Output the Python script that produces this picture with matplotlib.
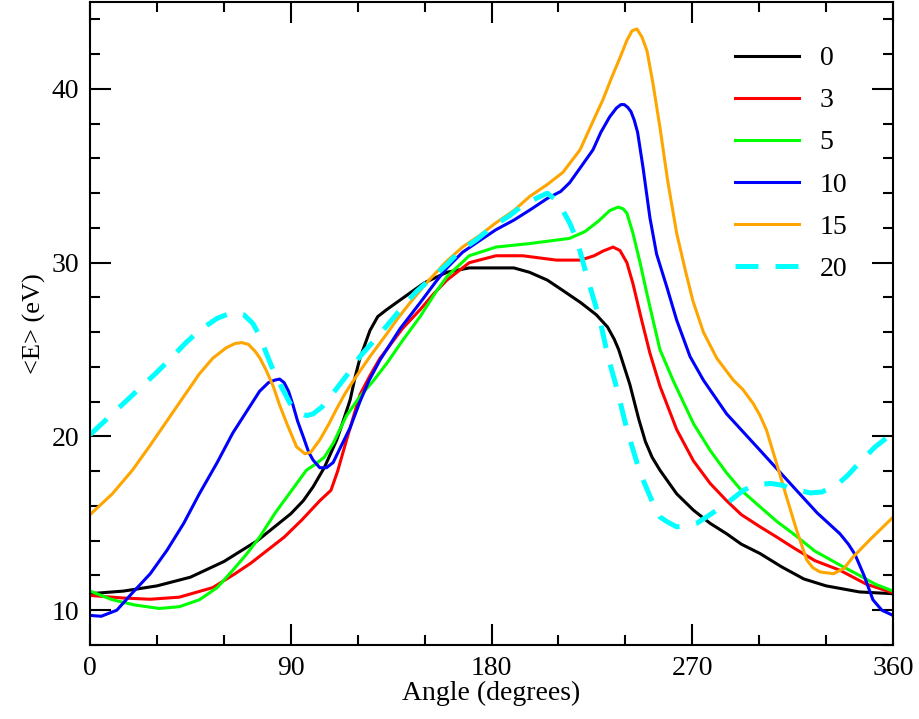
import matplotlib
matplotlib.use('Agg')
import matplotlib.pyplot as plt
from matplotlib.ticker import MultipleLocator

plt.rcParams['font.family'] = ['Liberation Serif', 'DejaVu Serif']

# (angle, <E>) pairs
x0 = [0, 15, 30, 45, 60, 75, 90, 95.6, 100, 105, 110.6, 113, 116.6, 119, 121, 125.5, 129, 133, 139, 145, 150,
      160, 170, 180, 190, 197, 205, 212, 220, 227, 232, 235, 237, 239, 242, 246, 249, 252, 255.5, 263, 270.5,
      278, 285.4, 292, 300.4, 310, 320, 330, 345, 360]
y0 = [10.95, 11.1, 11.4, 11.9, 12.8, 14.0, 15.55, 16.3, 17.1, 18.2, 19.8, 20.7, 22.1, 23.5, 24.5, 26.1, 26.9,
      27.3, 27.85, 28.4, 28.85, 29.45, 29.7, 29.7, 29.7, 29.45, 29.0, 28.4, 27.7, 27.0, 26.3, 25.6, 25.0,
      24.2, 23.0, 21.0, 19.7, 18.8, 18.06, 16.7, 15.76, 15.0, 14.4, 13.8, 13.26, 12.5, 11.8, 11.4, 11.05,
      10.95]

x3 = [0, 15, 27, 40, 55, 65, 72, 80, 87, 95, 103, 108, 111, 115, 118, 121, 125.5, 130, 133, 140, 148, 154, 160,
      170, 182, 194, 209, 220, 226, 230, 234.5, 237.6, 240.7, 243.4, 247.3, 251, 255.5, 263, 270.5, 278,
      285.4, 292, 300.4, 308, 315.3, 325, 336.2, 348, 360]
y3 = [10.85, 10.7, 10.63, 10.75, 11.3, 12.1, 12.7, 13.5, 14.2, 15.2, 16.3, 16.9, 18.0, 19.8, 21.1, 22.4, 23.5,
      24.5, 25.0, 26.2, 27.3, 28.2, 29.0, 30.0, 30.4, 30.4, 30.15, 30.15, 30.4, 30.67, 30.9, 30.7, 30.0,
      28.8, 26.7, 24.8, 22.9, 20.4, 18.6, 17.3, 16.3, 15.5, 14.8, 14.2, 13.6, 12.85, 12.3, 11.5, 11.0]

x5 = [0, 10, 20, 31, 40, 49, 57, 64, 70, 76, 83, 87, 91, 97, 101, 105, 109, 115, 121, 127, 133, 140, 148, 155,
      160, 170, 182, 197, 215, 222, 228, 233, 236.8, 239, 240.7, 243.4, 246.6, 249.7, 252.4, 255.5, 261.5,
      270.5, 278, 285.4, 292, 300.4, 308, 315.3, 325, 336.2, 345, 352, 360]
y5 = [11.1, 10.6, 10.3, 10.1, 10.2, 10.6, 11.3, 12.3, 13.2, 14.2, 15.6, 16.3, 17.0, 18.06, 18.4, 18.8, 19.6,
      21.2, 22.3, 23.2, 24.2, 25.5, 26.9, 28.3, 29.2, 30.4, 30.9, 31.1, 31.4, 31.8, 32.4, 33.0, 33.2, 33.1,
      32.85, 31.7, 30.0, 28.2, 26.7, 25.0, 23.2, 20.75, 19.2, 17.9, 16.9, 15.95, 15.1, 14.4, 13.4, 12.6,
      12.0, 11.5, 11.1]

x10 = [0, 5, 12, 19, 27, 34.5, 42, 49, 57, 64, 71, 76, 80, 83, 85, 87, 89, 91, 93, 95.6, 98, 100, 103,
       106, 109, 112, 116.6, 121, 125, 130, 139, 148, 155, 160, 167, 175, 182, 190, 198, 205, 211, 215, 220,
       225.5, 229, 233, 236, 238, 239.5, 241, 242.5, 244, 245.5, 247.9, 251, 254, 258.6, 263, 269, 275,
       285.4, 300.4, 315.3, 326, 336.2, 340, 343, 347, 351, 355, 360]
y10 = [9.7, 9.65, 10.0, 11.0, 12.1, 13.45, 15.0, 16.7, 18.5, 20.2, 21.6, 22.6, 23.1, 23.25, 23.3, 23.1,
       22.6, 21.8, 20.9, 19.98, 19.1, 18.64, 18.2, 18.2, 18.5, 19.3, 20.5, 22.0, 23.2, 24.4, 26.2, 27.7,
       28.9, 29.7, 30.6, 31.3, 31.9, 32.45, 33.1, 33.7, 34.1, 34.6, 35.5, 36.5, 37.5, 38.4, 38.9, 39.1, 39.1,
       38.95, 38.7, 38.2, 37.5, 35.5, 32.6, 30.5, 28.6, 26.7, 24.6, 23.24, 21.3, 19.2, 17.1, 15.6, 14.4,
       13.8, 13.2, 12.0, 10.6, 10.0, 9.7]

x15 = [0, 10, 19, 27, 34.5, 42, 49, 55, 61, 65, 68, 71, 74, 76.2, 79, 82.2, 85, 88.2, 92.6, 96.4, 99, 103, 107,
       110.6, 114, 118, 125.5, 133, 138, 143.5, 152, 160, 167, 175, 182, 190, 197, 205, 212, 219.7, 225, 230,
       234, 237.6, 240.7, 243, 245.2, 247.4, 249.7, 252.4, 255.5, 259, 263, 267, 270.3, 275, 281, 288.4,
       292.7, 297.3, 300.4, 303.3, 307.8, 312.3, 316.8, 321.3, 324, 327.3, 333.3, 338, 342, 350, 360]
y15 = [15.5, 16.7, 18.06, 19.5, 20.9, 22.3, 23.6, 24.5, 25.1, 25.35, 25.4, 25.3, 24.9, 24.5, 23.8, 22.86, 21.8,
       20.75, 19.4, 19.0, 19.1, 19.8, 20.7, 21.6, 22.4, 23.2, 24.6, 25.9, 26.8, 27.7, 29.0, 30.1, 30.9, 31.6,
       32.3, 33.0, 33.8, 34.5, 35.2, 36.5, 38.0, 39.4, 40.7, 41.8, 42.8, 43.35, 43.45, 43.0, 42.2, 40.3, 37.8,
       34.7, 31.7, 29.5, 27.8, 26.0, 24.5, 23.24, 22.7, 21.9, 21.2, 20.36, 18.45, 16.5, 14.6, 12.9, 12.45,
       12.2, 12.1, 12.4, 13.05, 14.1, 15.35]

x20 = [0, 10, 20, 30, 37, 43, 49, 57, 64, 69, 73, 76, 79, 81.5, 83.7, 86, 89.7, 93, 97.1, 100, 104, 109, 115,
       121, 130, 140.4, 146, 153, 160, 166, 173, 180.7, 188, 194, 200, 205, 209, 212, 215, 218.3, 222.8,
       228.6, 232.2, 236, 240.7, 246.6, 252.4, 255.5, 258.6, 263, 268, 272, 278, 285.4, 292.9, 298, 304.9,
       310, 316, 322.8, 328, 334.8, 340, 345, 352, 360]
y20 = [20.1, 21.3, 22.5, 23.7, 24.6, 25.4, 26.1, 26.8, 27.15, 27.0, 26.5, 25.8, 24.8, 24.0, 23.4, 22.8, 21.9,
       21.4, 21.2, 21.3, 21.7, 22.5, 23.5, 24.6, 25.9, 27.5, 28.3, 29.1, 29.9, 30.7, 31.3, 32.1, 32.7, 33.3,
       33.7, 34.0, 33.6, 33.0, 32.3, 31.3, 29.2, 26.7, 24.6, 22.85, 20.4, 17.9, 16.15, 15.37, 15.1, 14.8,
       14.85, 15.0, 15.5, 16.14, 16.9, 17.2, 17.3, 17.2, 16.95, 16.75, 16.8, 17.2, 17.8, 18.5, 19.4, 20.2]

labels = ['0', '3', '5', '10', '15', '20']
colors = ['black', 'red', '#00ff00', 'blue', 'orange', 'cyan']
series = [(x0, y0), (x3, y3), (x5, y5), (x10, y10), (x15, y15), (x20, y20)]

fig = plt.figure(figsize=(9.19, 7.19), dpi=100)
ax = fig.add_axes([0.098, 0.103, 0.8737, 0.8941])

for (xs, ys), lab, col in zip(series, labels, colors):
    if lab == '20':
        ax.plot(xs, ys, color=col, lw=3.6, dashes=(4.6, 3.4), label=lab)
    else:
        ax.plot(xs, ys, color=col, lw=2.2, label=lab, solid_joinstyle='round')

ax.set_xlim(0, 360)
ax.set_ylim(8, 45)
ax.xaxis.set_major_locator(MultipleLocator(90))
ax.xaxis.set_minor_locator(MultipleLocator(30))
ax.yaxis.set_major_locator(MultipleLocator(10))
ax.yaxis.set_minor_locator(MultipleLocator(2))
ax.tick_params(which='both', direction='in', top=True, right=True, width=1.5, labelsize=20, pad=8)
ax.tick_params(which='major', length=15)
ax.tick_params(which='minor', length=7.5)
for s in ax.spines.values():
    s.set_linewidth(1.5)

ax.set_xlabel('Angle (degrees)', fontsize=20, labelpad=0)
ax.set_ylabel('<E> (eV)', fontsize=19, labelpad=4)

ax.legend(loc='upper left', bbox_to_anchor=(0.803, 0.932), frameon=False, fontsize=20,
          handlelength=2.3, handletextpad=0.75, labelspacing=0.6, borderpad=0, borderaxespad=0)

fig.savefig('out.png', dpi=100)
